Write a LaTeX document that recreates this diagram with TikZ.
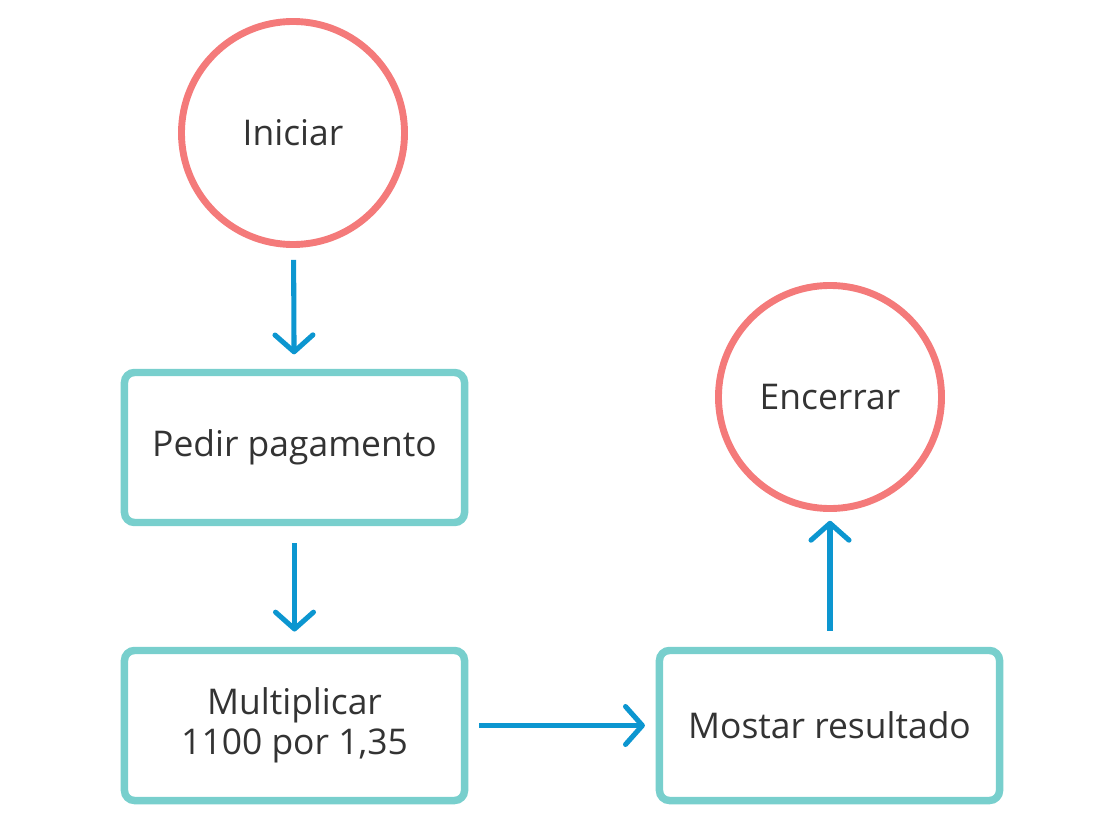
\documentclass[tikz,border=0pt]{standalone}
\usepackage{fontspec}
\setmainfont{Open Sans}
\usetikzlibrary{arrows.meta}
\definecolor{endred}{RGB}{244,122,122}
\definecolor{steppen}{RGB}{120,207,205}
\definecolor{flowblue}{RGB}{12,150,208}
\definecolor{txtgray}{RGB}{51,51,51}

\begin{document}
\begin{tikzpicture}[x=0.025cm,y=-0.025cm,
    every node/.style={text=txtgray,font=\fontsize{25.2}{28.5}\selectfont,align=center},
    endpoint/.style={circle,draw=endred,line width=4.9pt,minimum size=5.575cm,inner sep=0pt},
    stepbox/.style={rectangle,draw=steppen,line width=5.3pt,rounded corners=0.25cm,minimum width=8.5cm,minimum height=3.75cm},
    flow/.style={draw=flowblue,line width=3.6pt,-{Straight Barb[length=12pt,width=27pt,round]}}]
    \useasboundingbox (0,0) rectangle (1112,834);

    \node (start) [endpoint] at (293,133) {Iniciar};
    \node (ask) [stepbox] at (294.5,447.5) {Pedir pagamento};
    \node (mult) [stepbox] at (294.5,725.5) {Multiplicar\\1100 por 1,35};
    \node (show) [stepbox] at (829.5,725.5) {Mostar resultado};
    \node (stop) [endpoint] at (830,397) {Encerrar};

  \draw[flow,shorten <=0.3cm,shorten >=0.36cm] (start) -- (ask);
  \draw[flow,shorten <=0.42cm,shorten >=0.38cm] (ask) -- (mult);
  \draw[flow,shorten <=0.27cm,shorten >=0.27cm] (mult) -- (show);
  \draw[flow,shorten <=0.4cm,shorten >=0.22cm] (show.north -| stop) -- (stop);
\end{tikzpicture}
\end{document}
